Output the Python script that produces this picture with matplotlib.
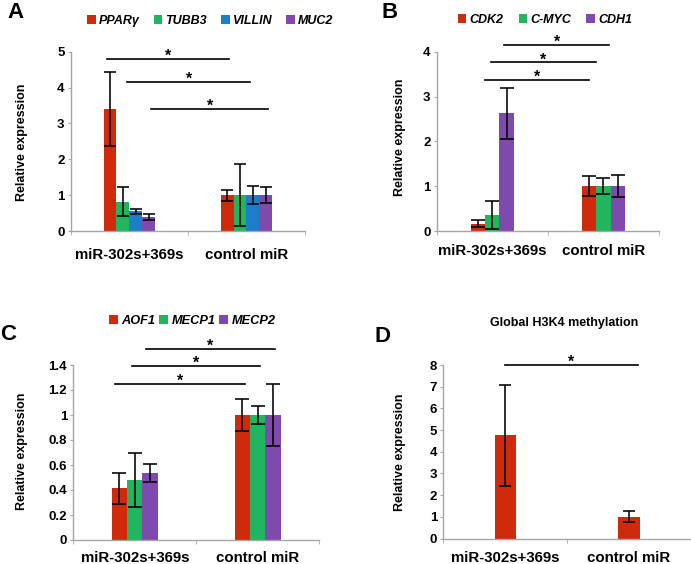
import matplotlib
matplotlib.use("Agg")
import matplotlib.pyplot as plt
import numpy as np

plt.rcParams['font.family'] = ['Liberation Sans', 'DejaVu Sans']
plt.rcParams['font.weight'] = 'bold'

# ---------------- data ----------------
groups = ['miR-302s+369s', 'control miR']

genes_A = ['PPARγ', 'TUBB3', 'VILLIN', 'MUC2']
mir_A = [3.40, 0.82, 0.55, 0.39]
mir_err_A = [1.02, 0.40, 0.07, 0.09]
ctrl_A = [1.0, 1.0, 1.0, 1.0]
ctrl_err_A = [0.15, 0.87, 0.25, 0.22]

genes_B = ['CDK2', 'C-MYC', 'CDH1']
mir_B = [0.16, 0.36, 2.63]
mir_err_B = [0.08, 0.32, 0.57]
ctrl_B = [1.0, 1.0, 1.0]
ctrl_err_B = [0.23, 0.18, 0.25]

genes_C = ['AOF1', 'MECP1', 'MECP2']
mir_C = [0.415, 0.48, 0.535]
mir_err_C = [0.125, 0.215, 0.073]
ctrl_C = [1.0, 1.0, 1.0]
ctrl_err_C = [0.13, 0.075, 0.25]

vals_D = [4.77, 1.0]
err_D = [2.33, 0.25]

yticks_A = [0, 1, 2, 3, 4, 5]
yticks_B = [0, 1, 2, 3, 4]
yticks_C = [0, 0.2, 0.4, 0.6, 0.8, 1.0, 1.2, 1.4]
ylabels_C = ['0', '0.2', '0.4', '0.6', '0.8', '1', '1.2', '1.4']
yticks_D = [0, 1, 2, 3, 4, 5, 6, 7, 8]

# significance brackets (x0, x1, y) in data units
sig_A = [(-0.19, 0.854, 4.80), (-0.017, 1.03, 4.15), (0.186, 1.187, 3.40)]
sig_B = [(-0.065, 0.871, 3.37), (-0.011, 0.932, 3.76), (0.109, 1.05, 4.15)]
sig_C = [(-0.157, 0.892, 1.248), (-0.021, 1.02, 1.392), (0.093, 1.136, 1.528)]
sig_D = [(0.0, 1.07, 8.0)]

# ---------------- style ----------------
RED = '#D02A0C'
GREEN = '#20B55E'
BLUE = '#1C7DCA'
PURPLE = '#7F4AAE'
GRAY = '#A6A6A6'

W, H = 691, 564
fig = plt.figure(figsize=(W / 100, H / 100), dpi=100)


def add_axes(l, t, r, b):
    return fig.add_axes([l / W, 1 - b / H, (r - l) / W, (b - t) / H])


def style(ax, ymax, yticks, ylabels, xpad):
    ax.set_xlim(-0.5, 1.5)
    ax.set_ylim(0, ymax)
    for s in ['top', 'right']:
        ax.spines[s].set_visible(False)
    for s in ['left', 'bottom']:
        ax.spines[s].set_color(GRAY)
        ax.spines[s].set_linewidth(1.0)
    ax.set_xticks([0, 1])
    ax.set_xticklabels(groups, fontsize=10.8, fontweight='bold')
    ax.set_xticks([-0.5, 0.5, 1.5], minor=True)
    ax.tick_params(axis='x', which='major', length=0, pad=xpad)
    ax.tick_params(axis='x', which='minor', length=3, color=GRAY, direction='out')
    ax.set_yticks(yticks)
    ax.set_yticklabels(ylabels, fontsize=9.5, fontweight='bold')
    ax.tick_params(axis='y', which='major', length=2.2, color=GRAY, pad=2.3)
    ax.tick_params(axis='y', which='minor', length=0)


def grouped(ax, genes, mir, mir_err, ctrl, ctrl_err, colors, bw, capsize):
    n = len(genes)
    x = np.arange(2)
    for i in range(n):
        off = (i - (n - 1) / 2) * bw
        ax.bar(x + off, [mir[i], ctrl[i]], bw, yerr=[mir_err[i], ctrl_err[i]],
               color=colors[i], label=genes[i],
               error_kw=dict(ecolor='black', elinewidth=1.15, capsize=capsize, capthick=1.15))


def sig(ax, lines):
    for x0, x1, y in lines:
        ax.plot([x0, x1], [y, y], color='black', lw=1.2, clip_on=False)
        ax.annotate('*', xy=((x0 + x1) / 2, y), xytext=(0, -1.5), textcoords='offset points',
                    ha='center', va='baseline', fontsize=11.5, fontweight='bold',
                    annotation_clip=False)


def legend(ax, x, y, size, colsp):
    ax.legend(loc='center left', bbox_to_anchor=(x / W, 1 - y / H), bbox_transform=fig.transFigure,
              ncol=4, frameon=False, borderpad=0, borderaxespad=0, handlelength=0.7,
              handleheight=0.7, handletextpad=0.25, columnspacing=colsp,
              prop=dict(family=['Liberation Sans', 'DejaVu Sans'], style='italic', weight='bold', size=size))


def ylabel(ax, x, y):
    ax.set_ylabel('Relative expression', fontsize=9, fontweight='bold', va='center')
    ax.yaxis.set_label_coords(x / W, 1 - y / H, transform=fig.transFigure)


# Panel A
axA = add_axes(70.7, 51.7, 305, 231)
grouped(axA, genes_A, mir_A, mir_err_A, ctrl_A, ctrl_err_A, [RED, GREEN, BLUE, PURPLE], 0.11, 4.3)
style(axA, 5, yticks_A, [str(v) for v in yticks_A], 12)
sig(axA, sig_A)
legend(axA, 87, 20.7, 9, 1.1)
ylabel(axA, 21.7, 142)

# Panel B
axB = add_axes(436.7, 51.7, 659, 231)
grouped(axB, genes_B, mir_B, mir_err_B, ctrl_B, ctrl_err_B, [RED, GREEN, PURPLE], 0.129, 5.0)
style(axB, 4, yticks_B, [str(v) for v in yticks_B], 9.5)
sig(axB, sig_B)
legend(axB, 457.7, 20, 9, 1.2)
ylabel(axB, 400, 137.5)

# Panel C
axC = add_axes(73.3, 365, 319.3, 540)
grouped(axC, genes_C, mir_C, mir_err_C, ctrl_C, ctrl_err_C, [RED, GREEN, PURPLE], 0.125, 5.0)
style(axC, 1.4, yticks_C, ylabels_C, 8)
sig(axC, sig_C)
legend(axC, 109.3, 320.7, 9.2, 0.3)
ylabel(axC, 21.7, 451.7)

# Panel D
axD = add_axes(443.3, 365, 691, 538.5)
axD.bar(np.arange(2), vals_D, 0.172, yerr=err_D, color=RED,
        error_kw=dict(ecolor='black', elinewidth=1.15, capsize=4.6, capthick=1.15))
style(axD, 8, yticks_D, [str(v) for v in yticks_D], 9)
sig(axD, sig_D)
ylabel(axD, 400, 452.5)
fig.text(564.5 / W, 1 - 323.3 / H, 'Global H3K4 methylation', ha='center', va='center',
         fontsize=9, fontweight='bold')

# panel letters
for letter, (px, py) in zip('ABCD', [(15.5, 12), (389.5, 12), (8.5, 334), (383, 336)]):
    fig.text(px / W, 1 - py / H, letter, ha='center', va='center', fontsize=16, fontweight='bold')

fig.savefig('out.png', dpi=100)
